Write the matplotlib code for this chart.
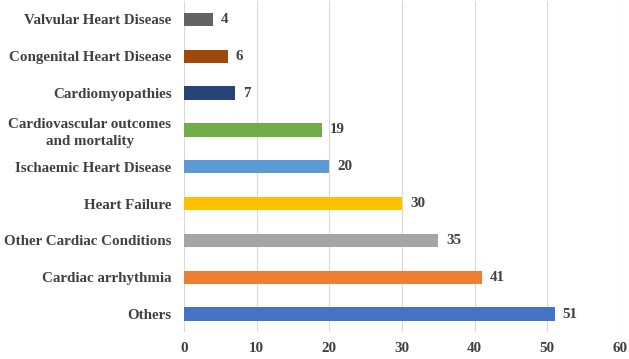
import matplotlib
matplotlib.use("Agg")
import matplotlib.pyplot as plt

categories = ["Others", "Cardiac arrhythmia", "Other Cardiac Conditions", "Heart Failure",
              "Ischaemic Heart Disease", "Cardiovascular outcomes\nand mortality",
              "Cardiomyopathies", "Congenital Heart Disease", "Valvular Heart Disease"]
values = [51, 41, 35, 30, 20, 19, 7, 6, 4]
colors = ["#4472C4", "#ED7D31", "#A5A5A5", "#FFC000", "#5B9BD5", "#70AD47",
          "#264478", "#9E480E", "#636363"]
xticks = [0, 10, 20, 30, 40, 50, 60]

plt.rcParams['font.family'] = ['Liberation Serif', 'DejaVu Serif']
txt = "#404040"
fs = 10.8

fig = plt.figure(figsize=(6.29, 3.59), dpi=100)
ax = fig.add_axes([0.2925, 0.074, 0.6932, 0.923])
y = list(range(len(categories)))
ax.barh(y, values, height=0.36, color=colors, zorder=3)
for yi, v in zip(y, values):
    ax.text(v + 1.1, yi, str(v), va='center', ha='left', fontsize=fs,
            fontweight='bold', color=txt)
ax.set_ylim(-0.5, len(categories) - 0.5)
ax.set_xlim(0, 60)
ax.set_xticks(xticks)
ax.set_yticks(y)
ax.set_yticklabels(categories, fontsize=fs, fontweight='bold', color=txt,
                   linespacing=1.35, multialignment='center')
for lab in ax.get_xticklabels():
    lab.set_fontsize(fs)
    lab.set_fontweight('bold')
    lab.set_color(txt)
ax.tick_params(axis='both', length=0)
ax.tick_params(axis='y', pad=9)
ax.tick_params(axis='x', pad=7)
ax.grid(axis='x', color='#D9D9D9', linewidth=0.8, zorder=0)
for s in ax.spines.values():
    s.set_visible(False)
fig.savefig("out.png", dpi=100)
